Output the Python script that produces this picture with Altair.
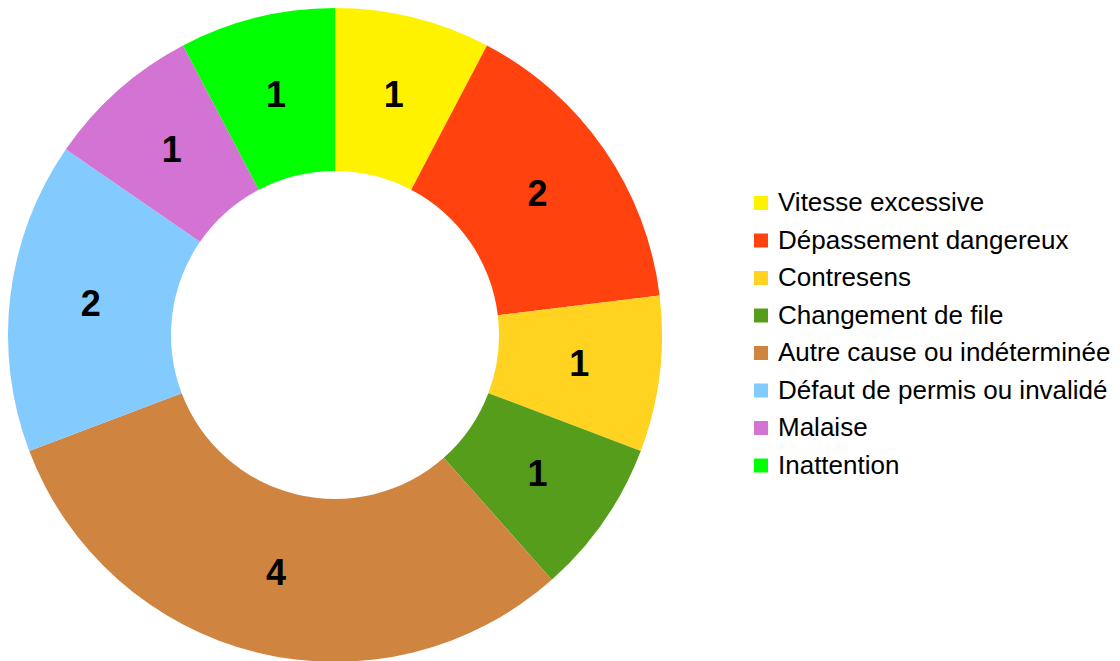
import altair as alt
import pandas as pd

categories = [
    "Vitesse excessive",
    "Dépassement dangereux",
    "Contresens",
    "Changement de file",
    "Autre cause ou indéterminée",
    "Défaut de permis ou invalidé",
    "Malaise",
    "Inattention",
]
values = [1, 2, 1, 1, 4, 2, 1, 1]
colors = ["#FFF200", "#FF420E", "#FFD320", "#579D1C", "#CF853F", "#83CAFF", "#D373D3", "#00FF00"]

df = pd.DataFrame({"cause": categories, "n": values, "idx": list(range(len(values)))})

base = alt.Chart(df).encode(
    theta=alt.Theta("n:Q", stack=True),
    order=alt.Order("idx:Q"),
)

arcs = base.mark_arc(outerRadius=327, innerRadius=164, stroke=None).encode(
    color=alt.Color(
        "cause:N",
        scale=alt.Scale(domain=categories, range=colors),
        sort=categories,
        legend=alt.Legend(
            title=None,
            orient="none",
            legendX=740,
            legendY=180,
            symbolType="square",
            symbolSize=196,
            symbolStrokeWidth=0,
            labelFont="Liberation Sans",
            labelFontSize=26,
            labelColor="#000000",
            labelLimit=400,
            rowPadding=11.5,
            labelOffset=4,
            padding=0,
        ),
    )
)

labels = base.mark_text(
    radius=246, font="Liberation Sans", fontSize=36, fontWeight="bold", color="#000000"
).encode(text="n:Q")

chart = (
    alt.layer(arcs, labels)
    .properties(width=654, height=650, padding=0)
    .configure_view(stroke=None)
)

chart.save("out.html", embed_options={"renderer": "svg", "actions": False})
